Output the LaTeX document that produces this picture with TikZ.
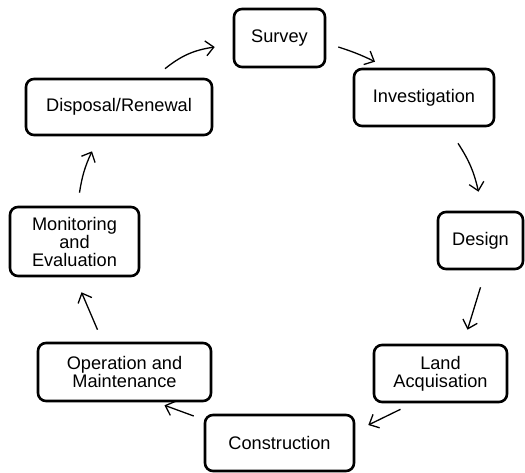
\documentclass[tikz,border=0pt]{standalone}
\usepackage{fontspec}
\setmainfont{Liberation Sans}
\usetikzlibrary{arrows.meta}

\begin{document}
\begin{tikzpicture}[x=1pt, y=-1pt,
                      stage/.style = {shape=rectangle, rounded corners=8pt,
                        draw, line width=2.6pt, align=center, inner sep=0pt,
                        font=\fontsize{18.2}{18}\selectfont},
                      flow/.style = {-{Straight Barb[length=8pt,width=15pt]},
                        line width=1.3pt}]
  \useasboundingbox (0,0) rectangle (525,473);
  % the stages, clockwise from the top
  \node[stage, minimum width=91pt, minimum height=58pt] (survey) at (279.5,38) {Survey};
  \node[stage, minimum width=140pt, minimum height=57pt] (invest) at (424,97.5) {Investigation};
  \node[stage, minimum width=85pt, minimum height=57pt] (design) at (480.5,240.5) {Design};
  \node[stage, minimum width=133pt, minimum height=57pt] (land) at (440.5,373.5) {Land\\Acquisation};
  \node[stage, minimum width=149pt, minimum height=56pt] (constr) at (279.5,443) {Construction};
  \node[stage, minimum width=173pt, minimum height=58pt] (oper) at (124.5,372) {Operation and\\Maintenance};
  \node[stage, minimum width=129pt, minimum height=69pt] (monit) at (74.5,241.5) {Monitoring\\and\\Evaluation};
  \node[stage, minimum width=186pt, minimum height=56pt] (dispo) at (119,107) {Disposal/Renewal};
  % the arrows between them
  \draw[flow] ([xshift=46pt,yshift=9pt]dispo.north) to[bend left=15] ([xshift=-18pt,yshift=-9pt]survey.west);
  \draw[flow] ([xshift=12pt,yshift=-9pt]survey.east) to[bend left=4] ([xshift=-49pt,yshift=6pt]invest.north);
  \draw[flow] ([xshift=34pt,yshift=-16pt]invest.south) to[bend left=10] ([xshift=-2pt,yshift=19pt]design.north);
  \draw[flow] ([yshift=-17pt]design.south) -- ([xshift=27pt,yshift=14pt]land.north);
  \draw[flow] ([xshift=-40pt,yshift=-6pt]land.south) -- ([xshift=13pt,yshift=18pt]constr.east);
  \draw[flow] ([xshift=-10pt,yshift=27pt]constr.west) -- ([xshift=40pt,yshift=-3pt]oper.south);
  \draw[flow] ([xshift=-27pt,yshift=12pt]oper.north) -- ([xshift=7pt,yshift=-15pt]monit.south);
  \draw[flow] ([xshift=5pt,yshift=13pt]monit.north) to[bend left=8] ([xshift=-27pt,yshift=-15pt]dispo.south);
\end{tikzpicture}
\end{document}
